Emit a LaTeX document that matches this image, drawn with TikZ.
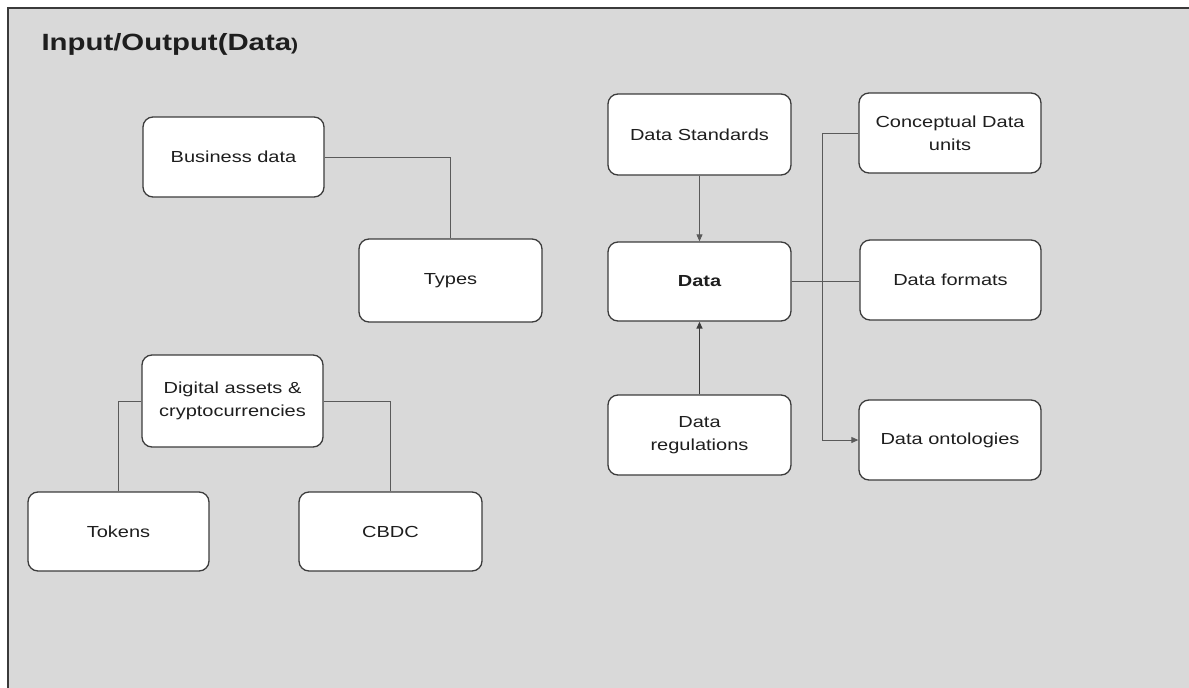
\documentclass[tikz,border=0pt]{standalone}
\usepackage{fontspec}
\setmainfont[FakeStretch=1.25]{Liberation Sans}
\usetikzlibrary{arrows.meta}
\definecolor{panel}{HTML}{D9D9D9}
\definecolor{frame}{HTML}{3A3A3A}
\definecolor{boxline}{HTML}{3C3C3C}
\definecolor{linkc}{HTML}{5A5A5A}
\definecolor{textc}{HTML}{1E1E1E}
\tikzset{
  box/.style={draw=boxline, fill=white, rounded corners=10pt, line width=1.3pt,
    minimum width=182pt, minimum height=80pt, align=center, text=textc,
    font=\fontsize{16}{23}\selectfont},
  link/.style={draw=linkc, line width=0.9pt},
  arrowlink/.style={link, -{Triangle[length=7pt,width=6pt]}},
  heading/.style={anchor=base west, text=textc, font=\bfseries\fontsize{23.5}{28}\selectfont},
}
\begin{document}
\begin{tikzpicture}[x=1pt,y=-1pt]
  \useasboundingbox (0,0) rectangle (1189,688);
  % panel with its top and left rule
  \fill[white] (0,0) rectangle (1189,688);
  \fill[panel] (8,8) rectangle (1200,700);
  \draw[frame, line width=2pt] (8,700) -- (8,8) -- (1200,8);

  \node[heading] (title) at (38,50) {Input/Output(Data{\fontsize{17}{20}\selectfont)}};

  % left group
  \node[box, minimum width=181pt] (biz) at (233.5,157) {Business data};
  \node[box, minimum width=183pt, minimum height=83pt] (types) at (450.5,280.5) {Types};
  \node[box, minimum width=181pt, minimum height=92pt] (digital) at (232.5,401) {Digital assets \&\\cryptocurrencies};
  \node[box, minimum width=181pt, minimum height=79pt] (tokens) at (118.5,531.5) {Tokens};
  \node[box, minimum width=183pt, minimum height=79pt] (cbdc) at (390.5,531.5) {CBDC};

  % data column
  \node[box, minimum width=183pt, minimum height=81pt] (std) at (699.5,134.5) {Data Standards};
  \node[box, minimum width=183pt, minimum height=79pt, font=\bfseries\fontsize{16}{23}\selectfont] (data) at (699.5,281.5) {Data};
  \node[box, minimum width=183pt] (reg) at (699.5,435) {Data\\regulations};

  % right column
  \node[box] (concept) at (950,133) {Conceptual Data\\units};
  \node[box, minimum width=181pt] (formats) at (950.5,280) {Data formats};
  \node[box] (onto) at (950,440) {Data ontologies};

  % connectors
  \draw[link] (biz.east) -| (types.north);
  \draw[link] (digital.west) -| (tokens.north);
  \draw[link] (digital.east) -| (cbdc.north);
  \draw[arrowlink] (std.south) -- (data.north);
  \draw[arrowlink, line width=1.4pt, draw=boxline] (reg.north) -- (data.south);
  \draw[link] (data.east) -- (data.east -| formats.west);
  \draw[arrowlink] (concept.west) -- ++(-36,0) |- (onto.west);
\end{tikzpicture}
\end{document}
